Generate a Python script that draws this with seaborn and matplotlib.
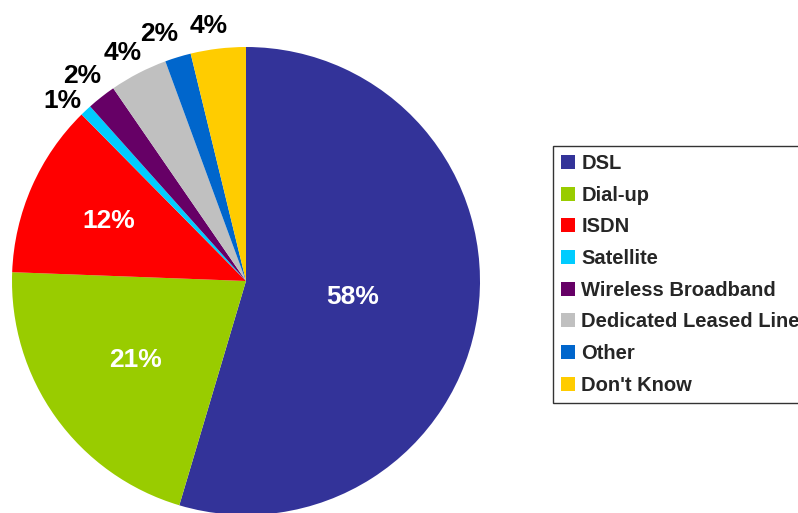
import numpy as np
import matplotlib
matplotlib.use("Agg")
import matplotlib.pyplot as plt
from matplotlib.patches import Patch
import seaborn as sns

# Data
categories = ["DSL", "Dial-up", "ISDN", "Satellite", "Wireless Broadband",
              "Dedicated Leased Line", "Other", "Don't Know"]
shares = [54.6, 21.0, 12.0, 0.8, 2.0, 4.0, 1.8, 3.8]          # slice sizes as drawn
label_texts = ["58%", "21%", "12%", "1%", "2%", "4%", "2%", "4%"]  # printed labels
colors = ["#333399", "#99CC00", "#FF0000", "#00CCFF", "#660066",
          "#C0C0C0", "#0066CC", "#FFCC00"]

sns.set_theme(style="white")
plt.rcParams["font.family"] = ["Liberation Sans", "DejaVu Sans"]
palette = sns.color_palette(colors)

W, H = 798, 513
fig = plt.figure(figsize=(W / 100, H / 100), dpi=100)

# pie centre (246, 281) px, radius 234 px
r_px = 234
lim = 1.15
side = 2 * r_px * lim
cx, cy = 246, H - 281
ax = fig.add_axes([(cx - side / 2) / W, (cy - side / 2) / H, side / W, side / H])

wedges, _ = ax.pie(shares, colors=palette, startangle=90, counterclock=False,
                   radius=1.0, wedgeprops=dict(linewidth=0))
ax.set_xlim(-lim, lim)
ax.set_ylim(-lim, lim)
ax.set_aspect("equal")
ax.axis("off")

# label placement (style): distance from centre and small angular nudge (deg)
label_dist = [0.46, 0.58, 0.64, 1.10, 1.12, 1.11, 1.12, 1.10]
label_nudge = [0, 0, 0, 2.3, 0.5, 1.1, 2.4, 1.6]
for i, (w, txt) in enumerate(zip(wedges, label_texts)):
    ang = np.deg2rad((w.theta1 + w.theta2) / 2 + label_nudge[i])
    col = "white" if i < 3 else "black"
    d = label_dist[i]
    ax.text(d * np.cos(ang), d * np.sin(ang), txt, ha="center", va="center",
            fontsize=19, fontweight="bold", color=col)

handles = [Patch(facecolor=c, edgecolor="none") for c in palette]
leg = fig.legend(handles, categories, loc="upper left",
                 bbox_to_anchor=(553 / W, 1 - 146 / H), borderaxespad=0,
                 frameon=True, fancybox=False, edgecolor="#333333",
                 framealpha=1, prop=dict(size=14.5, weight="bold"),
                 handlelength=0.7, handleheight=0.7, handletextpad=0.3,
                 labelspacing=0.63, borderpad=0.4)
leg.get_frame().set_linewidth(1.0)

fig.savefig("out.png", dpi=100)
